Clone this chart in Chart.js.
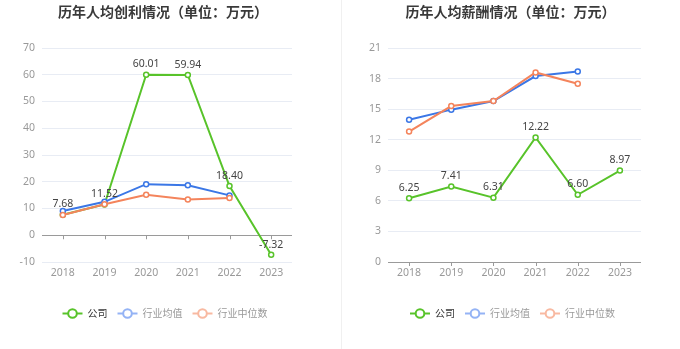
<!DOCTYPE html>
<html>
<head>
<meta charset="utf-8">
<script src="https://cdn.jsdelivr.net/npm/chart.js@4"></script>
<style>
html,body{margin:0;padding:0;background:#fff;}
#wrap{position:relative;width:680px;height:349px;overflow:hidden;}
.box{position:absolute;top:0;width:340px;height:349px;}
#divider{position:absolute;left:341px;top:0;width:1px;height:349px;background:#f0f0f0;}
</style>
</head>
<body>
<div id="wrap">
  <div class="box" style="left:0"><canvas id="c1" width="340" height="349"></canvas></div>
  <div id="divider"></div>
  <div class="box" style="left:340px"><canvas id="c2" width="340" height="349"></canvas></div>
</div>
<script>
// ---- data ----
const years = ['2018', '2019', '2020', '2021', '2022', '2023'];
const seriesNames = ['公司', '行业均值', '行业中位数'];

const title1 = '历年人均创利情况（单位：万元）';
const profitCompany = [7.68, 11.52, 60.01, 59.94, 18.40, -7.32];
const profitIndustryAvg = [9.1, 12.5, 19.1, 18.7, 14.9, null];
const profitIndustryMedian = [7.6, 11.6, 15.1, 13.4, 13.9, null];
const profitTicks = { min: -10, max: 70, step: 10 };

const title2 = '历年人均薪酬情况（单位：万元）';
const salaryCompany = [6.25, 7.41, 6.31, 12.22, 6.60, 8.97];
const salaryIndustryAvg = [13.95, 14.95, 15.8, 18.25, 18.7, null];
const salaryIndustryMedian = [12.8, 15.3, 15.8, 18.6, 17.5, null];
const salaryTicks = { min: 0, max: 21, step: 3 };

// ---- styles ----
const colors = ['#58c32a', '#3b77e6', '#f4845c'];
const legendIconColors = ['#58c32a', '#94b3f5', '#f8b9a1'];
const legendTextColors = ['#333333', '#999999', '#999999'];
const FONT = "'Noto Sans', 'Noto Sans CJK SC', sans-serif";
const CJK = "'Noto Sans CJK SC', sans-serif";

const decorPlugin = {
  id: 'decor',
  afterDraw(chart, args, opts) {
    const ctx = chart.ctx;
    const area = chart.chartArea;
    const cx = (area.left + area.right) / 2;
    ctx.save();
    // title
    ctx.font = 'bold 14px ' + CJK;
    ctx.fillStyle = '#3a3a3a';
    ctx.textAlign = 'center';
    ctx.textBaseline = 'middle';
    ctx.fillText(opts.title, cx - 4, 11.5);

    // zero line tick marks
    const xs = chart.scales.x, ys = chart.scales.y;
    const y0 = ys.getPixelForValue(0);
    ctx.strokeStyle = '#9a9a9a';
    ctx.lineWidth = 1;
    for (let i = 0; i < years.length; i++) {
      const px = Math.round(xs.getPixelForValue(i)) + 0.5;
      ctx.beginPath(); ctx.moveTo(px, y0); ctx.lineTo(px, y0 + 4); ctx.stroke();
    }

    // data labels for company series
    const meta = chart.getDatasetMeta(0);
    ctx.font = '10.5px ' + FONT;
    ctx.fillStyle = '#444';
    ctx.textBaseline = 'bottom';
    meta.data.forEach((pt, i) => {
      const v = chart.data.datasets[0].data[i];
      if (v === null) return;
      ctx.fillText(v.toFixed(2), pt.x, pt.y - 5);
    });

    // legend
    ctx.font = '10px ' + CJK;
    ctx.textBaseline = 'middle';
    ctx.textAlign = 'left';
    const iconW = 20, gapIcon = 5, gapItem = 10;
    let total = 0;
    const widths = seriesNames.map(n => ctx.measureText(n).width);
    widths.forEach((w, i) => { total += iconW + gapIcon + w + (i < widths.length - 1 ? gapItem : 0); });
    let x = cx - 2 - total / 2;
    const ly = 313.5;
    seriesNames.forEach((n, i) => {
      ctx.strokeStyle = legendIconColors[i]; ctx.lineWidth = 2;
      ctx.beginPath(); ctx.moveTo(x, ly); ctx.lineTo(x + iconW, ly); ctx.stroke();
      ctx.fillStyle = '#fff';
      ctx.beginPath(); ctx.arc(x + iconW / 2, ly, 4.3, 0, Math.PI * 2); ctx.fill(); ctx.stroke();
      ctx.fillStyle = legendTextColors[i];
      ctx.fillText(n, x + iconW + gapIcon, ly);
      x += iconW + gapIcon + widths[i] + gapItem;
    });
    ctx.restore();
  }
};

function ds(label, data, color, order) {
  return {
    label, data, order,
    borderColor: color,
    backgroundColor: '#fff',
    borderWidth: 2,
    pointRadius: 2.5,
    pointBorderWidth: 1.5,
    pointBackgroundColor: '#fff',
    pointBorderColor: color,
    tension: 0,
    spanGaps: false
  };
}

function build(id, title, d0, d1, d2, tk, yWidth, padRight) {
  new Chart(document.getElementById(id), {
    type: 'line',
    data: {
      labels: years,
      datasets: [
        ds(seriesNames[0], d0, colors[0], 3),
        ds(seriesNames[1], d1, colors[1], 2),
        ds(seriesNames[2], d2, colors[2], 1)
      ]
    },
    options: {
      responsive: false,
      animation: false,
      events: [],
      layout: { padding: { top: 48, bottom: 67, left: 0, right: padRight } },
      plugins: {
        legend: { display: false },
        title: { display: false },
        tooltip: { enabled: false },
        decor: { title }
      },
      scales: {
        x: {
          offset: true,
          grid: { display: false, drawTicks: false },
          border: { display: false },
          ticks: { color: '#999', font: { size: 10.5, family: FONT }, padding: 5, maxRotation: 0 },
          afterFit(s) { s.height = 20; }
        },
        y: {
          min: tk.min, max: tk.max,
          ticks: { stepSize: tk.step, color: '#999', font: { size: 10.5, family: FONT }, padding: 7 },
          grid: {
            drawTicks: false,
            color: c => (c.tick && c.tick.value === 0) ? '#9a9a9a' : '#e8ecf4',
            lineWidth: 1
          },
          border: { display: false },
          afterFit(s) { s.width = yWidth; }
        }
      }
    },
    plugins: [decorPlugin]
  });
}

build('c1', title1, profitCompany, profitIndustryAvg, profitIndustryMedian, profitTicks, 42, 48);
build('c2', title2, salaryCompany, salaryIndustryAvg, salaryIndustryMedian, salaryTicks, 48, 39);
</script>
</body>
</html>
